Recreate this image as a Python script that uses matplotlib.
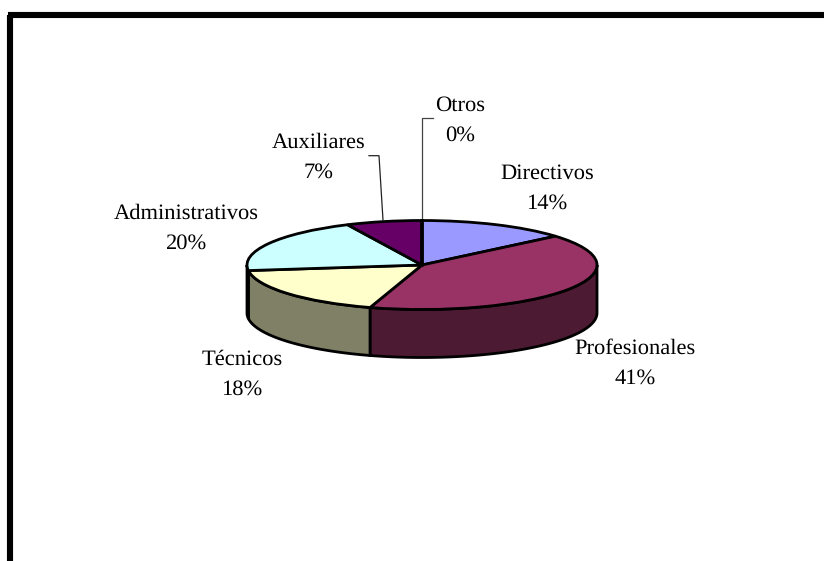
import numpy as np
import matplotlib
matplotlib.use("Agg")
import matplotlib.pyplot as plt
from matplotlib.colors import to_rgb

plt.rcParams["text.hinting"] = "no_hinting"

categories = ["Directivos", "Profesionales", "Técnicos", "Administrativos", "Auxiliares", "Otros"]
values = [13.8, 41, 18.2, 20, 7, 0.001]
percent_labels = ["14%", "41%", "18%", "20%", "7%", "0%"]
colors = ["#9999FF", "#993366", "#FFFFCC", "#CCFFFF", "#660066", "#FFFFFF"]
# label centres in pixels, measured from top left
label_x = [547, 635, 242, 186, 319, 460]
label_y = [188.5, 363.5, 374.5, 228.5, 157.5, 120.5]

W, H = 824, 561
fig = plt.figure(figsize=(W / 100, H / 100), dpi=100)

# page axes in pixels, for the frame, labels and leader lines
page = fig.add_axes([0, 0, 1, 1])
page.set_xlim(0, W)
page.set_ylim(H, 0)
page.axis("off")
page.plot([10, 10], [H, 14.5], color="black", lw=4.4, solid_capstyle="butt", solid_joinstyle="miter")
page.plot([7.8, W], [14.5, 14.5], color="black", lw=4.4, solid_capstyle="butt")

for name, pct, x, y in zip(categories, percent_labels, label_x, label_y):
    page.text(x, y, name + "\n" + pct, ha="center", va="center", family="Liberation Serif",
              fontsize=16.2, linespacing=1.66, color="black")

page.plot([383, 379, 369], [220, 155.7, 155.7], color="#222222", lw=0.9)
page.plot([421.7, 421.7, 432.7], [220, 117.7, 117.7], color="#444444", lw=0.9)

# pie axes covers the bounding box of the top ellipse
cx, cy, rx, ry, depth = 422, 265, 175, 44.5, 48
pie_ax = fig.add_axes([(cx - rx) / W, 1 - (cy + ry) / H, 2 * rx / W, 2 * ry / H])

# side wall, only the front half shows
fracs = np.array(values) / sum(values)
edges = 90 - 360 * np.concatenate([[0], np.cumsum(fracs)])
d = depth / ry
for i in range(len(values)):
    a1 = edges[i + 1] % 360
    a2 = a1 + (edges[i] - edges[i + 1])
    lo = max(a1, 180)
    hi = min(a2, 360)
    if hi <= lo:
        continue
    t = np.radians(np.linspace(lo, hi, 60))
    xs = np.cos(t)
    ys = np.sin(t)
    wall_x = np.concatenate([xs, xs[::-1]])
    wall_y = np.concatenate([ys, ys[::-1] - d])
    wall_color = tuple(c * 0.5 for c in to_rgb(colors[i]))
    pie_ax.fill(wall_x, wall_y, facecolor=wall_color, edgecolor="black", lw=2.0,
                clip_on=False, zorder=1)

wedges, _ = pie_ax.pie(values, colors=colors, startangle=90, counterclock=False, radius=1,
                       wedgeprops={"edgecolor": "black", "linewidth": 2.0, "clip_on": False, "zorder": 3})
pie_ax.set_aspect("auto")
pie_ax.set_xlim(-1, 1)
pie_ax.set_ylim(-1, 1)
pie_ax.axis("off")

fig.savefig("out.png", dpi=100, facecolor="white")
